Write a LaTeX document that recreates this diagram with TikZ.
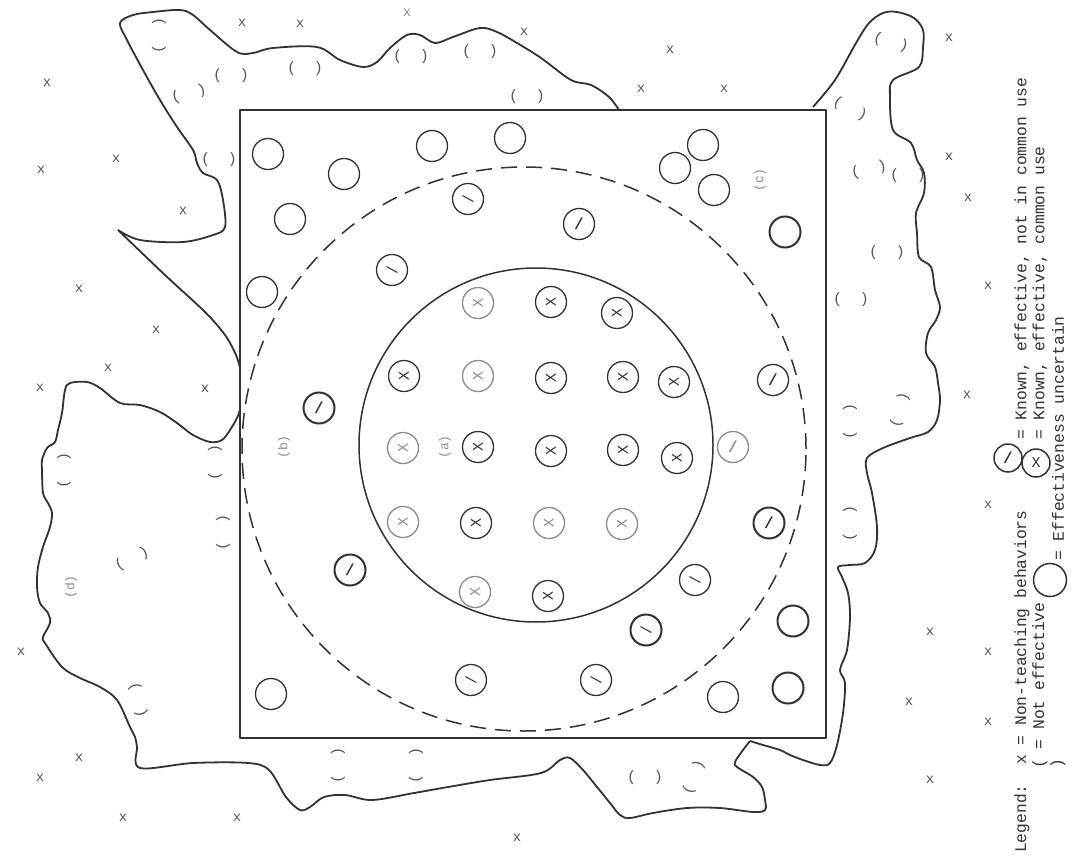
\documentclass[tikz,border=0pt]{standalone}
\usepackage{fontspec}
\setmonofont{Liberation Mono}
\definecolor{ink}{RGB}{50,50,50}
\definecolor{fade}{RGB}{140,140,140}
\definecolor{mark}{RGB}{85,85,85}
\tikzset{
  ln/.style={draw=ink, line width=1.8pt, line join=round},
  uc/.style={circle, draw=ink, line width=1.3pt, minimum size=31pt, inner sep=0pt, text=ink},
  ucd/.style={uc, line width=2pt},
  gc/.style={uc, draw=fade, text=fade},
  typed/.style={font=\ttfamily\fontsize{15}{15}\selectfont, rotate=90},
  steep/.style={font=\ttfamily\bfseries\fontsize{16}{16}\selectfont},
  xm/.style={font=\ttfamily\fontsize{14}{14}\selectfont, text=mark, inner sep=0pt},
  pr/.style={font=\ttfamily\fontsize{15}{15}\selectfont, text=mark, inner sep=0pt},
  reg/.style={font=\ttfamily\fontsize{13}{13}\selectfont, text=fade, rotate=90, inner sep=0pt},
  lg/.style={font=\ttfamily\fontsize{16.3}{16.3}\selectfont, text=ink, rotate=90, anchor=west, inner sep=0pt}
}
\newcommand\pp{(\hspace{1.2em})}
\begin{document}
\begin{tikzpicture}[x=1pt,y=-1pt]
\fill[white] (0,0) rectangle (1078,856);
\useasboundingbox (0,0) rectangle (1078,856);

% square and circles of the diagram
\draw[ln, line width=2pt] (240,110) rectangle (826,738);
\node[circle, draw=ink, line width=1.5pt, minimum size=354pt, inner sep=0pt] (inner) at (536,445) {};
\node[circle, draw=ink, line width=1.5pt, dash pattern=on 16pt off 9pt, minimum size=564pt, inner sep=0pt] (dash) at (524,449) {};

% wavy outline, top part with the top-left lobe
\draw[ln] plot[smooth, tension=0.55] coordinates {(619,110) (609,97) (591,85) (571,80) (541,58) (517,43) (497,32) (480,28) (453,37) (435,43) (420,35) (407,35) (390,48) (377,62) (363,67) (340,60) (317,47) (273,48) (253,53) (237,52) (210,30) (193,15) (180,10) (153,12) (133,15) (120,23) (127,40) (143,70) (160,100) (177,127) (193,150) (197,163) (203,173) (217,180) (223,200) (225,227) (213,235) (183,242) (140,240) (118,230)};
\draw[ln] plot[smooth, tension=0.55] coordinates {(118,230) (165,275) (205,312) (225,335) (236,355) (240,368)};

% wavy outline, the rest
\draw[ln] plot[smooth, tension=0.55] coordinates {(240,410) (237,418) (230,430) (222,440) (210,442) (193,435) (177,423) (160,412) (140,405) (120,403) (100,388) (87,382) (70,383) (65,390) (62,413) (58,430) (55,442) (47,448) (42,460) (42,470) (43,493) (48,503) (52,513) (50,527) (43,547) (38,567) (37,587) (40,603) (48,613) (50,623) (43,637) (45,643) (62,667) (80,678) (100,687) (117,700) (130,727) (135,737) (137,747) (140,768) (193,763) (248,763) (269,770) (286,797) (300,810) (310,807) (324,797) (345,795) (372,800) (414,793) (448,787) (490,780) (541,773) (560,760) (570,758) (583,770) (597,787) (610,803) (620,815) (630,818) (653,813) (687,808) (720,808) (753,812) (765,810) (765,800) (762,787) (753,777) (737,767) (735,762) (743,750) (750,741)};
\draw[ln] plot[smooth, tension=0.55] coordinates {(750,741) (763,745) (780,750) (790,755) (803,760) (820,765) (830,763) (837,745) (843,713) (845,683) (840,670) (847,650) (850,617) (848,593) (842,577) (838,567) (850,565) (865,563) (875,550) (877,527) (872,493) (867,473) (867,458) (883,448) (910,438) (928,432) (937,420) (940,400) (938,383) (935,367) (926,353) (928,333) (936,320) (940,307) (935,290) (931,267) (919,257) (917,233) (916,213) (924,193) (924,173) (917,160) (911,143) (893,130) (890,97) (893,80) (919,67) (923,47) (923,30) (914,18) (897,12) (883,13) (869,23) (856,43) (835,80) (813,107)};

% region labels
\node[reg] (la) at (445,447) {(a)};
\node[reg] (lb) at (284,447) {(b)};
\node[reg] (lc) at (760,180) {(c)};
\node[reg] (ld) at (71,587) {(d)};

% effectiveness uncertain
\foreach \p [count=\i] in {(268,154),(344,174),(432,146),(510,138),(290,219),(262,292),(703,145),(675,168),(714,190),(271,694),(723,697)}
  \node[uc] (u\i) at \p {};
\foreach \p [count=\i] in {(785,232),(793,621),(788,688)}
  \node[ucd] (ud\i) at \p {};

% known, effective, not in common use
\foreach \p [count=\i] in {(468,199),(392,270),(471,680),(596,680),(695,580)}
  \node[uc, typed] (s\i) at \p {/};
\node[ucd, typed] (s6) at (646,630) {/};
\foreach \p [count=\i] in {(319,408),(350,570),(769,523)}
  \node[ucd, steep] (sd\i) at \p {/};
\node[uc, steep] (sd4) at (773,380) {/};
\node[uc, steep] (sd5) at (579,224) {/};
\node[gc, steep] (sd6) at (733,447) {/};

% known, effective, common use
\foreach \p [count=\i] in {(551,302),(617,313),(404,376),(551,378),(623,377),(674,382),(478,447),(551,451),(623,450),(677,458),(476,523),(548,596)}
  \node[uc, typed] (k\i) at \p {X};
\foreach \p [count=\i] in {(478,303),(478,376),(403,448),(403,522),(549,523),(622,524),(475,592)}
  \node[gc, typed] (kg\i) at \p {X};

% non-teaching behaviours
\foreach \p [count=\i] in {(242,23),(300,24),(524,32),(670,50),(641,89),(724,89),(949,38),(949,157),(968,198),(988,286),(967,395),(988,505),(930,632),(988,652),(909,702),(988,722),(930,780),(47,83),(41,170),(116,159),(183,211),(79,289),(156,330),(108,368),(40,388),(205,389),(21,652),(79,758),(40,778),(123,818),(237,818),(517,838)}
  \node[xm] (x\i) at \p {x};
\node[xm, text=fade] (xg) at (407,13) {x};

% not effective: pairs of parentheses
\foreach \p/\a [count=\i] in {(231,76)/0,(305,69)/0,(411,57)/0,(480,52)/0,(189,94)/17,(219,160)/0,(527,97)/0,(891,42)/-15,(850,109)/-25,(869,170)/12,(908,176)/0,(887,253)/0,(851,300)/0,(645,778)/0,(132,559)/27}
  \node[pr, rotate=\a] (p\i) at \p {\pp};
\foreach \p/\a [count=\i] in {(159,35)/90,(64,470)/90,(215,462)/90,(223,532)/90,(138,700)/104,(338,765)/90,(416,765)/90,(850,421)/90,(850,523)/90,(900,410)/74,(694,777)/69}
  \node[pr, rotate=\a] (q\i) at \p {\pp};

% legend
\node[lg] (lg1) at (1022,853) {Legend:~~x = Non-teaching behaviors};
\node[lg] (lg2) at (1040,769) {( = Not effective};
\node[lg] (lg3) at (1058,769) {)};
\node[uc, steep, minimum size=28pt, line width=1.5pt] (lgs) at (1008,458) {/};
\node[lg] (lg4) at (1022,440) {= Known, effective, not in common use};
\node[uc, minimum size=28pt, line width=1.5pt, font=\ttfamily\fontsize{15}{15}\selectfont] (lgx) at (1036,463) {X};
\node[lg] (lg5) at (1040,440) {= Known, effective, common use};
\node[uc, minimum size=33pt, line width=1.5pt] (lgu) at (1050,580) {};
\node[lg] (lg6) at (1058,561) {= Effectiveness uncertain};
\end{tikzpicture}
\end{document}
